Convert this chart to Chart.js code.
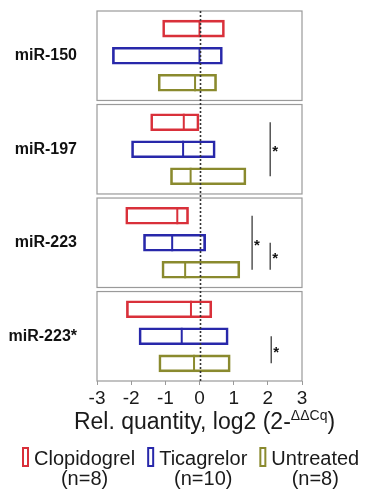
<!DOCTYPE html>
<html>
<head>
<meta charset="utf-8">
<script src="https://cdn.jsdelivr.net/npm/chart.js@4"></script>
<style>
	body { margin: 0; background: #fff; }
	#wrap { width: 366px; height: 491px; position: relative; }
</style>
</head>
<body>
<div id="wrap"><canvas id="mirChart"></canvas></div>
<script>
/* data */
const panels = ['miR-150', 'miR-197', 'miR-223', 'miR-223*']
const groups = ['Clopidogrel', 'Ticagrelor', 'Untreated']
const groupN = [8, 10, 8]
const xTicks = [-3, -2, -1, 0, 1, 2, 3]

// box left edge / median / right edge, one value per panel
const clopLow = [-1.08, -1.43, -2.16, -2.14]
const clopMed = [0.00, -0.46, -0.65, -0.25]
const clopHigh = [0.73, 0.00, -0.32, 0.36]

const ticaLow = [-2.55, -1.99, -1.64, -1.77]
const ticaMed = [0.00, -0.48, -0.80, -0.52]
const ticaHigh = [0.67, 0.46, 0.18, 0.84]

const untrLow = [-1.21, -0.85, -1.10, -1.19]
const untrMed = [-0.13, -0.26, -0.42, -0.16]
const untrHigh = [0.50, 1.36, 1.18, 0.90]

// significance brackets : panel, from group, to group, x value
const sigPanel = [1, 2, 2, 3]
const sigFrom = [0, 0, 1, 1]
const sigTo = [2, 2, 2, 2]
const sigX = [2.07, 1.54, 2.07, 2.10]

/* styles */
const colors = ['#d9303a', '#2828aa', '#8a8a2e']
const PANEL_STEP = 3.46
const PANEL_PAD = 0.655

function rowPos(p, g) {
	return p * PANEL_STEP + g
}

const lows = [clopLow, ticaLow, untrLow]
const meds = [clopMed, ticaMed, untrMed]
const highs = [clopHigh, ticaHigh, untrHigh]

let datasets = []
groups.forEach(function(name, g) {
	datasets.push({
		type: 'bar',
		label: name,
		indexAxis: 'y',
		grouped: false,
		barThickness: 17,
		data: panels.map(function(p, i) { return { y: rowPos(i, g), x: [lows[g][i], highs[g][i]] } }),
		backgroundColor: 'rgba(255,255,255,0)',
		borderColor: colors[g],
		borderWidth: 2,
		borderSkipped: false
	})
})
groups.forEach(function(name, g) {
	datasets.push({
		type: 'scatter',
		label: name + ' median',
		data: panels.map(function(p, i) { return { x: meds[g][i], y: rowPos(i, g) } }),
		pointStyle: 'line',
		rotation: 90,
		radius: 8.5,
		hoverRadius: 8.5,
		borderColor: colors[g],
		borderWidth: 2
	})
})

/* panel frames, zero line, brackets, axis title, legend */
const decorPlugin = {
	id: 'decor',
	beforeDatasetsDraw: function(chart) {
		const ctx = chart.ctx
		const xs = chart.scales.x
		const ys = chart.scales.y
		ctx.save()
		ctx.strokeStyle = '#9a9a9a'
		ctx.lineWidth = 1.2
		panels.forEach(function(p, i) {
			const top = ys.getPixelForValue(rowPos(i, 0) - PANEL_PAD)
			const bot = ys.getPixelForValue(rowPos(i, 2) + PANEL_PAD)
			ctx.strokeRect(xs.left, top, xs.right - xs.left, bot - top)
		})
		ctx.restore()
	},
	afterDatasetsDraw: function(chart) {
		const ctx = chart.ctx
		const xs = chart.scales.x
		const ys = chart.scales.y
		const area = chart.chartArea
		ctx.save()

		// dotted zero line
		const x0 = Math.round(xs.getPixelForValue(0)) + 0.5
		ctx.strokeStyle = '#333'
		ctx.lineWidth = 1.6
		ctx.setLineDash([2, 2])
		ctx.beginPath()
		ctx.moveTo(x0, area.top)
		ctx.lineTo(x0, area.bottom)
		ctx.stroke()
		ctx.setLineDash([])

		// significance
		ctx.strokeStyle = '#555'
		ctx.lineWidth = 1.5
		ctx.fillStyle = '#111'
		ctx.font = 'bold 15px "Liberation Sans", Arial, sans-serif'
		ctx.textAlign = 'left'
		ctx.textBaseline = 'middle'
		sigPanel.forEach(function(p, k) {
			const x = xs.getPixelForValue(sigX[k])
			const y1 = ys.getPixelForValue(rowPos(p, sigFrom[k]))
			const y2 = ys.getPixelForValue(rowPos(p, sigTo[k]))
			ctx.beginPath()
			ctx.moveTo(x, y1)
			ctx.lineTo(x, y2)
			ctx.stroke()
			ctx.fillText('*', x + 2, (y1 + y2) / 2 + 3)
		})

		// axis title with superscript
		const mainTxt = 'Rel. quantity, log2 (2-'
		const supTxt = '\u0394\u0394Cq'
		const endTxt = ')'
		const mainFont = '23px "Liberation Sans", Arial, sans-serif'
		const supFont = '14px "Liberation Sans", Arial, sans-serif'
		ctx.textBaseline = 'alphabetic'
		ctx.fillStyle = '#1a1a1a'
		ctx.font = mainFont
		const w1 = ctx.measureText(mainTxt).width
		const w3 = ctx.measureText(endTxt).width
		ctx.font = supFont
		const w2 = ctx.measureText(supTxt).width
		let tx = (xs.left + xs.right) / 2 + 5 - (w1 + w2 + w3) / 2
		const ty = area.bottom + 48
		ctx.font = mainFont
		ctx.fillText(mainTxt, tx, ty)
		ctx.font = supFont
		ctx.fillText(supTxt, tx + w1, ty - 9)
		ctx.font = mainFont
		ctx.fillText(endTxt, tx + w1 + w2, ty)

		// legend
		ctx.font = '20px "Liberation Sans", Arial, sans-serif'
		let lx = 22
		const ly = area.bottom + 84
		groups.forEach(function(name, g) {
			ctx.strokeStyle = colors[g]
			ctx.lineWidth = 2
			ctx.strokeRect(lx + 1, ly - 17, 5, 18)
			const tw = ctx.measureText(name).width
			const textX = lx + 12
			ctx.fillStyle = '#1a1a1a'
			ctx.textAlign = 'left'
			ctx.fillText(name, textX, ly)
			ctx.textAlign = 'center'
			ctx.fillText('(n=' + groupN[g] + ')', textX + tw / 2, ly + 20)
			lx = textX + tw + 12
		})
		ctx.restore()
	}
}

const chartArea = document.getElementById('mirChart').getContext('2d')

new Chart(chartArea, {
	type: 'bar',
	data: { datasets: datasets },
	options: {
		responsive: true,
		maintainAspectRatio: false,
		animation: false,
		layout: { autoPadding: false, padding: { left: 0, right: 64, top: 11, bottom: 0 } },
		plugins: {
			legend: { display: false },
			tooltip: { enabled: false }
		},
		scales: {
			x: {
				type: 'linear',
				offset: false,
				beginAtZero: false,
				min: -3,
				max: 3,
				afterBuildTicks: function(scale) {
					scale.ticks = xTicks.map(function(v) { return { value: v } })
				},
				afterFit: function(scale) { scale.height = 110 },
				grid: { offset: false, drawOnChartArea: false, drawTicks: true, tickLength: 4, tickColor: '#9a9a9a', color: '#9a9a9a' },
				border: { display: false },
				ticks: {
					padding: 2,
					color: '#1a1a1a',
					font: { size: 19, family: '"Liberation Sans", Arial, sans-serif' },
					maxRotation: 0
				}
			},
			y: {
				type: 'linear',
				offset: false,
				beginAtZero: false,
				reverse: true,
				min: -PANEL_PAD,
				max: rowPos(panels.length - 1, 2) + PANEL_PAD,
				afterBuildTicks: function(scale) {
					scale.ticks = panels.map(function(p, i) { return { value: rowPos(i, 1) } })
				},
				afterFit: function(scale) {
					scale.width = 97
					scale.paddingTop = 0
					scale.paddingBottom = 0
				},
				grid: { offset: false, display: false, drawTicks: false },
				border: { display: false },
				ticks: {
					padding: 20,
					color: '#111',
					font: { size: 16, weight: 'bold', family: '"Liberation Sans", Arial, sans-serif' },
					callback: function(value) {
						const i = Math.round((value - 1) / PANEL_STEP)
						return panels[i]
					}
				}
			}
		}
	},
	plugins: [decorPlugin]
})
</script>
</body>
</html>
